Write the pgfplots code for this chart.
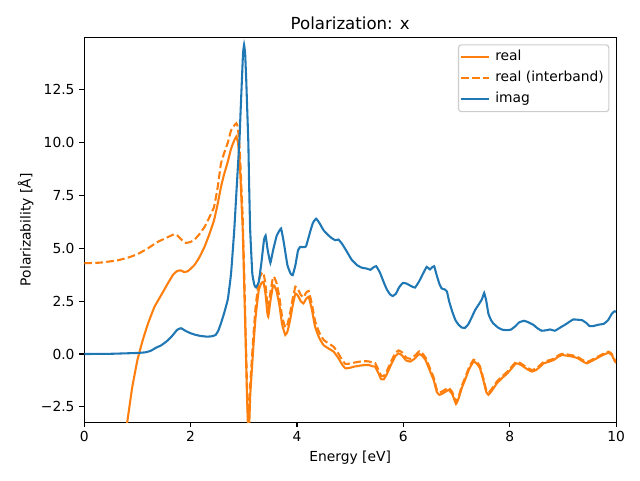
\documentclass[border=0pt]{standalone}
\usepackage{pgfplots}
\pgfplotsset{compat=1.18}
\usepackage{fontspec}
\setmainfont{DejaVu Sans}
\definecolor{cA}{HTML}{1F77B4}
\definecolor{cB}{HTML}{FF7F0E}
\begin{document}
\begin{tikzpicture}
\useasboundingbox (-60.9pt,-41.7pt) rectangle (401.6pt,305.2pt);
\begin{axis}[
  at={(0pt,0pt)}, anchor=south west,
  scale only axis, width=384.3pt, height=278.2pt,
  xmin=0, xmax=10, ymin=-3.23, ymax=14.97,
  axis line style={line width=0.8pt},
  tick align=outside, major tick length=3.5pt,
  tick style={line width=0.8pt, black},
  xtick={0,2,4,6,8,10}, xticklabels={0,2,4,6,8,10},
  ytick={-2.5,0,2.5,5,7.5,10,12.5},
  yticklabels={−2.5,0.0,2.5,5.0,7.5,10.0,12.5},
  xtick pos=bottom, ytick pos=left,
  ticklabel style={font=\fontsize{10}{12}\selectfont},
  xticklabel style={anchor=base, yshift=-10pt},
  yticklabel style={anchor=east},
  title={Polarization: x},
  title style={at={(axis description cs:0.5,1)}, anchor=base, yshift=-0.5pt, font=\fontsize{12}{14}\selectfont},
  xlabel={Energy [eV]},
  xlabel style={at={(axis description cs:0.5,0)}, anchor=base, yshift=-28.3pt, font=\fontsize{10}{12}\selectfont},
  ylabel={Polarizability [Å]},
  ylabel style={at={(axis description cs:0,0.5)}, anchor=base, rotate=0, yshift=38.7pt, font=\fontsize{10}{12}\selectfont},
  legend style={at={(axis description cs:1,1)}, xshift=-4.84pt, yshift=-5.06pt, anchor=north east,
    draw=black!20, rounded corners=2pt, line width=0.8pt,
    font=\fontsize{10}{12}\selectfont, inner xsep=1pt, inner ysep=1.3pt,
    column sep=1.5pt,
    nodes={inner sep=2.6pt, text height=7.5pt, text depth=2.5pt}},
  legend cell align=left,
  legend image code/.code={\draw[#1] (0pt,0pt) -- (20pt,0pt);},
]
\addplot[cB, line width=1.5pt, smooth, tension=0.2] coordinates {
(0.79,-3.5) (0.81,-3.19) (0.9,-1.6) (1.0,-0.28) (1.10,0.66) (1.2,1.45) (1.32,2.23) (1.45,2.8) (1.57,3.33) (1.67,3.75) (1.75,3.93) (1.82,3.95) (1.88,3.87) (1.95,3.92) (2.07,4.2) (2.16,4.55) (2.26,5.06) (2.35,5.65) (2.44,6.32) (2.51,7.11) (2.57,7.89) (2.63,8.5) (2.70,9.1) (2.76,9.7) (2.82,10.1) (2.86,10.28) (2.89,10.0) (2.92,9.2) (2.94,8.2) (2.96,7.0) (2.98,5.85) (3.01,3.0) (3.04,0.0) (3.06,-2.0) (3.08,-3.5) (3.10,-3.5) (3.12,-2.0) (3.15,-0.8) (3.18,0.35) (3.22,1.7) (3.28,3.0) (3.33,3.35) (3.37,3.41) (3.41,2.8) (3.44,2.0) (3.46,1.76) (3.50,2.5) (3.55,3.25) (3.58,3.2) (3.62,2.94) (3.67,2.3) (3.72,1.4) (3.78,0.9) (3.82,1.05) (3.87,1.6) (3.92,2.3) (3.97,2.86) (4.02,2.75) (4.07,2.5) (4.12,2.39) (4.17,2.6) (4.22,2.7) (4.28,2.1) (4.34,1.29) (4.42,0.75) (4.50,0.42) (4.60,0.25) (4.69,0.11) (4.78,-0.2) (4.85,-0.5) (4.91,-0.68) (5.00,-0.65) (5.07,-0.6) (5.18,-0.55) (5.28,-0.52) (5.35,-0.52) (5.42,-0.58) (5.47,-0.6) (5.53,-0.9) (5.58,-1.18) (5.63,-1.2) (5.69,-0.95) (5.77,-0.5) (5.85,-0.1) (5.91,0.03) (5.97,-0.05) (6.05,-0.3) (6.13,-0.36) (6.22,-0.2) (6.30,0.0) (6.36,-0.1) (6.42,-0.3) (6.50,-0.8) (6.57,-1.23) (6.63,-1.8) (6.68,-1.93) (6.75,-1.85) (6.85,-1.70) (6.92,-1.9) (6.99,-2.36) (7.04,-2.1) (7.10,-1.6) (7.16,-1.23) (7.24,-0.7) (7.32,-0.36) (7.38,-0.45) (7.44,-0.67) (7.50,-1.2) (7.56,-1.8) (7.60,-1.93) (7.66,-1.75) (7.76,-1.38) (7.85,-1.15) (7.95,-0.93) (8.03,-0.7) (8.12,-0.44) (8.20,-0.5) (8.26,-0.6) (8.35,-0.75) (8.42,-0.83) (8.50,-0.75) (8.58,-0.58) (8.64,-0.44) (8.72,-0.38) (8.83,-0.28) (8.90,-0.15) (8.98,-0.05) (9.08,-0.08) (9.19,-0.13) (9.28,-0.2) (9.36,-0.33) (9.45,-0.44) (9.55,-0.32) (9.64,-0.2) (9.75,-0.05) (9.86,0.06) (9.92,-0.05) (9.98,-0.36) (10.0,-0.42)
};
\addlegendentry{real}
\addplot[cB, line width=1.5pt, dash pattern=on 5.55pt off 2.4pt, smooth, tension=0.2] coordinates {
(0,4.29) (0.3,4.32) (0.63,4.43) (0.85,4.58) (1.0,4.72) (1.2,5.0) (1.38,5.30) (1.55,5.5) (1.69,5.66) (1.75,5.6) (1.83,5.4) (1.91,5.25) (2.0,5.3) (2.07,5.4) (2.16,5.65) (2.26,6.0) (2.35,6.45) (2.44,6.95) (2.51,7.9) (2.57,9.0) (2.63,9.5) (2.70,10.0) (2.76,10.57) (2.82,10.8) (2.86,10.91) (2.88,10.8) (2.9,10.4) (2.92,9.79) (2.94,8.78) (2.96,7.57) (2.98,6.41) (3.01,3.55) (3.04,0.54) (3.06,-1.47) (3.08,-3.0) (3.10,-3.0) (3.12,-1.49) (3.15,-0.30) (3.18,0.84) (3.22,2.18) (3.28,3.46) (3.33,3.80) (3.37,3.85) (3.41,3.23) (3.44,2.42) (3.46,2.18) (3.50,2.91) (3.55,3.65) (3.58,3.59) (3.62,3.32) (3.67,2.67) (3.72,1.76) (3.78,1.25) (3.82,1.39) (3.87,1.93) (3.92,2.63) (3.97,3.18) (4.02,3.06) (4.07,2.80) (4.12,2.68) (4.17,2.89) (4.22,2.98) (4.28,2.37) (4.34,1.56) (4.42,1.01) (4.50,0.67) (4.60,0.49) (4.69,0.34) (4.78,0.02) (4.85,-0.29) (4.91,-0.47) (5.00,-0.45) (5.07,-0.41) (5.18,-0.36) (5.28,-0.34) (5.35,-0.35) (5.42,-0.41) (5.47,-0.43) (5.53,-0.74) (5.58,-1.02) (5.63,-1.04) (5.69,-0.80) (5.77,-0.35) (5.85,0.05) (5.91,0.17) (5.97,0.09) (6.05,-0.16) (6.13,-0.23) (6.22,-0.07) (6.30,0.13) (6.36,0.02) (6.42,-0.18) (6.50,-0.68) (6.57,-1.11) (6.63,-1.69) (6.68,-1.82) (6.75,-1.74) (6.85,-1.59) (6.92,-1.80) (6.99,-2.26) (7.04,-2.00) (7.10,-1.50) (7.16,-1.13) (7.24,-0.60) (7.32,-0.27) (7.38,-0.36) (7.44,-0.58) (7.50,-1.11) (7.56,-1.71) (7.60,-1.84) (7.66,-1.66) (7.76,-1.30) (7.85,-1.07) (7.95,-0.85) (8.03,-0.62) (8.12,-0.37) (8.20,-0.43) (8.26,-0.53) (8.35,-0.68) (8.42,-0.76) (8.50,-0.68) (8.58,-0.51) (8.64,-0.37) (8.72,-0.31) (8.83,-0.22) (8.90,-0.09) (8.98,0.01) (9.08,-0.02) (9.19,-0.07) (9.28,-0.14) (9.36,-0.27) (9.45,-0.38) (9.55,-0.27) (9.64,-0.15) (9.75,0.0) (9.86,0.11) (9.92,0.0) (9.98,-0.31) (10.0,-0.37)
};
\addlegendentry{real (interband)}
\addplot[cA, line width=1.5pt, smooth, tension=0.2] coordinates {
(0,0.0) (0.5,0.01) (1.0,0.05) (1.15,0.08) (1.25,0.15) (1.35,0.3) (1.44,0.4) (1.55,0.6) (1.65,0.85) (1.75,1.15) (1.82,1.22) (1.9,1.1) (2.0,0.98) (2.1,0.9) (2.2,0.85) (2.31,0.82) (2.4,0.84) (2.47,0.9) (2.52,1.1) (2.57,1.45) (2.63,1.93) (2.70,2.6) (2.76,3.8) (2.82,5.85) (2.86,7.6) (2.89,8.9) (2.92,10.2) (2.94,11.5) (2.965,13.0) (2.985,14.2) (3.005,14.62) (3.025,14.2) (3.045,13.0) (3.065,11.5) (3.085,10.0) (3.10,8.0) (3.12,5.85) (3.16,3.8) (3.20,3.25) (3.23,3.15) (3.28,3.4) (3.33,4.3) (3.38,5.4) (3.41,5.6) (3.45,4.9) (3.50,4.31) (3.55,4.9) (3.62,5.6) (3.70,5.93) (3.75,5.3) (3.82,4.2) (3.88,3.8) (3.92,3.73) (3.97,4.2) (4.02,4.9) (4.06,5.06) (4.12,5.05) (4.17,5.09) (4.25,5.8) (4.30,6.2) (4.36,6.40) (4.42,6.2) (4.50,5.85) (4.56,5.69) (4.64,5.5) (4.72,5.38) (4.78,5.41) (4.85,5.2) (4.94,4.83) (5.03,4.45) (5.13,4.2) (5.22,4.08) (5.31,4.04) (5.38,3.98) (5.44,4.1) (5.49,4.15) (5.56,3.85) (5.63,3.4) (5.69,3.05) (5.75,2.82) (5.80,2.74) (5.86,2.85) (5.92,3.15) (5.99,3.36) (6.06,3.33) (6.14,3.22) (6.22,3.14) (6.30,3.45) (6.38,3.85) (6.44,4.12) (6.50,4.0) (6.55,4.12) (6.58,4.15) (6.63,3.7) (6.68,3.3) (6.72,3.10) (6.78,3.05) (6.82,2.95) (6.86,2.5) (6.92,2.0) (6.98,1.6) (7.04,1.38) (7.10,1.25) (7.16,1.24) (7.22,1.4) (7.28,1.7) (7.35,2.08) (7.43,2.39) (7.48,2.6) (7.52,2.89) (7.56,2.5) (7.60,1.9) (7.65,1.6) (7.69,1.45) (7.78,1.25) (7.86,1.15) (7.94,1.13) (8.02,1.15) (8.10,1.3) (8.18,1.5) (8.27,1.57) (8.35,1.5) (8.45,1.37) (8.52,1.22) (8.60,1.10) (8.68,1.12) (8.76,1.16) (8.85,1.1) (8.95,1.25) (9.05,1.4) (9.19,1.63) (9.28,1.62) (9.36,1.6) (9.45,1.45) (9.50,1.32) (9.57,1.32) (9.66,1.38) (9.77,1.43) (9.85,1.6) (9.92,1.9) (9.97,2.02) (10.0,2.0)
};
\addlegendentry{imag}
\end{axis}
\end{tikzpicture}
\end{document}
